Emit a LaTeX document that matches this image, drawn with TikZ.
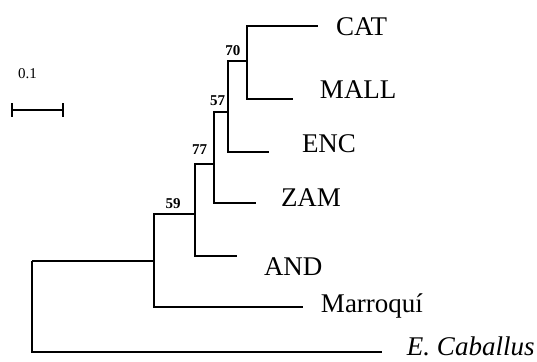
\documentclass[tikz,border=0pt]{standalone}
\usepackage{fontspec}
\setmainfont{Liberation Serif}
\usetikzlibrary{positioning}
\tikzset{leaf/.style = {anchor=base west, inner sep=0, font=\fontsize{13.5}{16}\selectfont}}
\tikzset{boot/.style = {anchor=base, inner sep=0, font=\fontsize{7.5}{9}\selectfont\bfseries}}

\begin{document}
\begin{tikzpicture}[x=0.5pt, y=-0.5pt, every path/.style={line width=1pt}]
      \useasboundingbox (0,0) rectangle (537,361);

      % internal nodes
      \coordinate (root) at (32,261);
      \coordinate (n59) at (154,261);
      \coordinate (n77) at (195,214);
      \coordinate (n57) at (214,164);
      \coordinate (n70) at (228,112);
      \coordinate (ncm) at (247,61);

      % tips
      \coordinate (cat) at (318,26);
      \coordinate (mall) at (293,99);
      \coordinate (enc) at (269,152);
      \coordinate (zam) at (256,203);
      \coordinate (and) at (237,256);
      \coordinate (mar) at (303,307);
      \coordinate (cab) at (382,352);

      \node[leaf] (catl) at (335,35) {CAT};
      \node[leaf] (malll) at (319,98) {MALL};
      \node[leaf] (encl) at (301,152) {ENC};
      \node[leaf] (zaml) at (280,206) {ZAM};
      \node[leaf] (andl) at (263,275) {AND};
      \node[leaf] (marl) at (320,312) {Marroquí};
      \node[leaf] (cabl) at (406,355) {\itshape E. Caballus};

      \node[boot] (b70) at (233,55) {70};
      \node[boot] (b57) at (217.5,105) {57};
      \node[boot] (b77) at (199.5,154) {77};
      \node[boot] (b59) at (173,208) {59};

      \draw (root) -- (n59);
      \draw (root) |- (cab);
      \draw (n59) |- (n77);
      \draw (n59) |- (mar);
      \draw (n77) |- (n57);
      \draw (n77) |- (and);
      \draw (n57) |- (n70);
      \draw (n57) |- (zam);
      \draw (n70) |- (ncm);
      \draw (n70) |- (enc);
      \draw (ncm) |- (cat);
      \draw (ncm) |- (mall);

      % scale bar
      \coordinate (sbl) at (12,110);
      \coordinate (sbr) at (62.7,110);
      \node[font=\fontsize{7.5}{9}\selectfont, inner sep=0] (sblab) at (27.5,74) {0.1};
      \draw (sbl) -- (sbr);
      \draw ([yshift=3.5pt]sbl) -- ([yshift=-3.5pt]sbl);
      \draw ([yshift=3.5pt]sbr) -- ([yshift=-3.5pt]sbr);
  \end{tikzpicture}
\end{document}
